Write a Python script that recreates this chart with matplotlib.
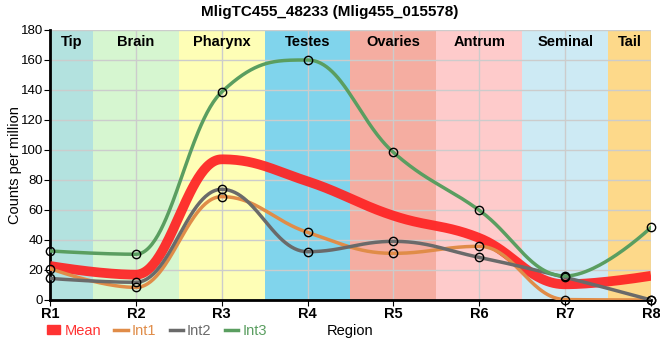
import numpy as np
import matplotlib
matplotlib.use("Agg")
import matplotlib.pyplot as plt
from matplotlib.lines import Line2D
from matplotlib.patches import Patch

plt.rcParams['font.family'] = ['Liberation Sans Narrow', 'Liberation Sans', 'DejaVu Sans']

title = "MligTC455_48233 (Mlig455_015578)"
regions = ["R1", "R2", "R3", "R4", "R5", "R6", "R7", "R8"]
bands = ["Tip", "Brain", "Pharynx", "Testes", "Ovaries", "Antrum", "Seminal", "Tail"]
band_colors = ["#b3e2df", "#d6f6d0", "#fefeb6", "#80d4ec", "#f5ada1", "#fecbcb", "#cdeaf4", "#fdd98a"]
int1 = [21.0, 8.4, 68.9, 45.1, 31.1, 35.8, 0.3, 0.0]
int2 = [14.4, 11.8, 73.8, 32.2, 39.1, 28.4, 15.1, 0.0]
int3 = [32.7, 30.5, 138.7, 160.0, 98.4, 59.8, 16.0, 48.4]
mean = [(a + b + c) / 3 for a, b, c in zip(int1, int2, int3)]


def spline(xs, ys, n=60):
    xs = list(map(float, xs)); ys = list(map(float, ys))
    N = len(xs); s = 1.5; den = s + 1
    lc = [(xs[i], ys[i]) for i in range(N)]
    rc = [(xs[i], ys[i]) for i in range(N)]
    for i in range(1, N - 1):
        x, y = xs[i], ys[i]
        lx, ly, nx, ny = xs[i - 1], ys[i - 1], xs[i + 1], ys[i + 1]
        lcx = (s * x + lx) / den; lcy = (s * y + ly) / den
        rcx = (s * x + nx) / den; rcy = (s * y + ny) / den
        corr = (rcy - lcy) * (rcx - x) / (rcx - lcx) + y - rcy
        lcy += corr; rcy += corr
        if lcy > ly and lcy > y:
            lcy = max(ly, y); rcy = 2 * y - lcy
        elif lcy < ly and lcy < y:
            lcy = min(ly, y); rcy = 2 * y - lcy
        if rcy > ny and rcy > y:
            rcy = max(ny, y); lcy = 2 * y - rcy
        elif rcy < ny and rcy < y:
            rcy = min(ny, y); lcy = 2 * y - rcy
        lc[i] = (lcx, lcy); rc[i] = (rcx, rcy)
    t = np.linspace(0, 1, n)[:, None]
    out = []
    for i in range(N - 1):
        P0 = np.array([xs[i], ys[i]]); P1 = np.array(rc[i])
        P2 = np.array(lc[i + 1]); P3 = np.array([xs[i + 1], ys[i + 1]])
        B = (1 - t)**3 * P0 + 3 * (1 - t)**2 * t * P1 + 3 * (1 - t) * t**2 * P2 + t**3 * P3
        out.append(B)
    B = np.vstack(out)
    return B[:, 0], B[:, 1]


fig = plt.figure(figsize=(6.6, 3.6), dpi=100)
ax = fig.add_axes([50 / 660, 60 / 360, 601 / 660, 270 / 360])
x = np.arange(len(regions))

for i, (b, c) in enumerate(zip(bands, band_colors)):
    lo = max(i - 0.5, 0); hi = min(i + 0.5, len(regions) - 1)
    ax.axvspan(lo, hi, color=c, zorder=0, lw=0)
    ax.text((lo + hi) / 2, 172, b, ha='center', va='center', fontsize=10.5, fontweight='bold', zorder=5)

ax.set_xlim(0, len(regions) - 1)
ax.set_ylim(0, 180)
ax.set_yticks(np.arange(0, 181, 20))
ax.set_xticks(x)
ax.set_xticklabels(regions, fontweight='bold', fontsize=10.5)
ax.tick_params(axis='y', labelsize=9.5, length=4, pad=1)
ax.tick_params(axis='x', length=4, pad=1)
ax.grid(True, color='#cccccc', lw=1, zorder=1)
for sp in ['top', 'right']:
    ax.spines[sp].set_visible(False)
ax.spines['left'].set_linewidth(2)
ax.spines['bottom'].set_linewidth(2)

series = [("Int1", int1, "#e08c48", 2.5), ("Int2", int2, "#6a6a6a", 2.5),
          ("Int3", int3, "#5a9e60", 2.5)]
mx, my = spline(x, mean)
ax.plot(mx, my, color='#ff2222', lw=7, alpha=0.92, zorder=3, solid_capstyle='butt')
for name, ys, col, lw in series:
    sx, sy = spline(x, ys)
    ax.plot(sx, sy, color=col, lw=lw, zorder=4)
    ax.plot(x, ys, 'o', mfc='none', mec='black', ms=6, mew=1, zorder=6, clip_on=False)

ax.set_ylabel("Counts per million", fontsize=10.5)
ax.yaxis.set_label_coords(-0.046, 0.5)
ax.set_xlabel("Region", fontsize=10.5, labelpad=2)
fig.suptitle(title, fontsize=11, fontweight='bold', y=0.985)

handles = [Patch(color='#ff3333', label='Mean'),
           Line2D([], [], color='#e08c48', lw=2.5, label='Int1'),
           Line2D([], [], color='#6a6a6a', lw=2.5, label='Int2'),
           Line2D([], [], color='#5a9e60', lw=2.5, label='Int3')]
leg = fig.legend(handles=handles, loc='center left', bbox_to_anchor=(34 / 660, 1 - 331 / 360),
                 ncol=4, frameon=False, fontsize=10.5, handlelength=0.9, handletextpad=0.3,
                 columnspacing=0.9, handleheight=0.6)
for tx, c in zip(leg.get_texts(), ['#ff3333', '#e08c48', '#6a6a6a', '#5a9e60']):
    tx.set_color(c)

fig.savefig("out.png", dpi=100)
